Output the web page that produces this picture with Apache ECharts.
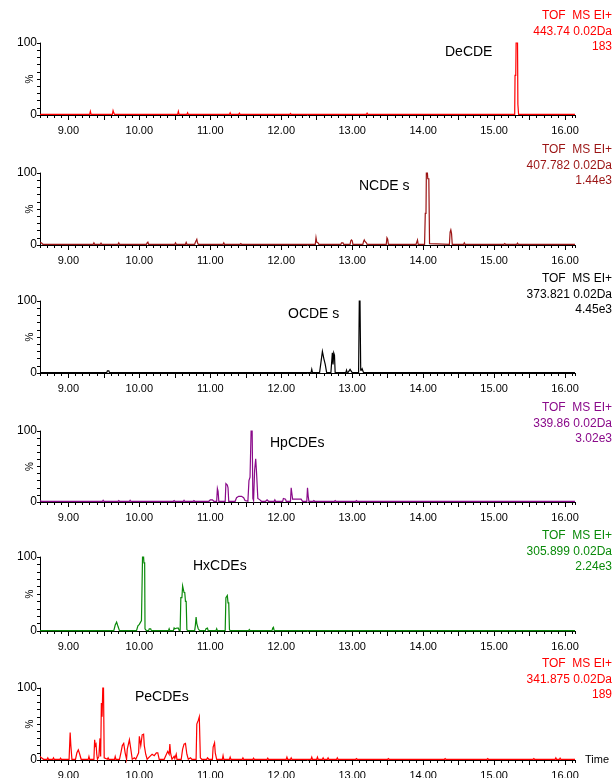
<!DOCTYPE html>
<html>
<head>
<meta charset="utf-8">
<script src="https://cdn.jsdelivr.net/npm/echarts@6/dist/echarts.min.js"></script>
<style>
html,body{margin:0;padding:0;background:#fff;}
#chart{width:613px;height:778px;}
</style>
</head>
<body>
<div id="chart"></div>
<script>
// ---------- DATA ----------
const compoundNames = ['DeCDE', 'NCDE s', 'OCDE s', 'HpCDEs', 'HxCDEs', 'PeCDEs'];
const headerLine1 = 'TOF  MS EI+';
const massLabels = ['443.74 0.02Da', '407.782 0.02Da', '373.821 0.02Da', '339.86 0.02Da', '305.899 0.02Da', '341.875 0.02Da'];
const intensityLabels = ['183', '1.44e3', '4.45e3', '3.02e3', '2.24e3', '189'];
const xTickLabels = [9, 10, 11, 12, 13, 14, 15, 16];
const xHalfTicks = [9, 9.5, 10, 10.5, 11, 11.5, 12, 12.5, 13, 13.5, 14, 14.5, 15, 15.5, 16];
const yTickLabels = [0, 100];

// Panel 1: DeCDE
const deTime = [8.60, 9.30, 9.31, 9.32, 9.62, 9.63, 9.64, 9.65, 10.54, 10.55, 10.56, 10.67, 10.68, 10.69, 11.27, 11.28, 11.29, 11.40, 11.41, 11.42, 12.12, 12.13, 12.14, 13.20, 13.21, 13.22, 15.29, 15.295, 15.305, 15.31, 15.33, 15.335, 15.345, 16.14];
const deVal  = [0.8, 0.8, 5, 0.8, 0.8, 6, 3, 0.8, 0.8, 5, 0.8, 0.8, 3, 0.8, 0.8, 3, 0.8, 0.8, 2.5, 0.8, 0.8, 2, 0.8, 0.8, 2.5, 0.8, 0.8, 55, 55, 100, 100, 15, 0.8, 0.8];

// Panel 2: NCDEs
const ncTime = [8.60, 8.62, 8.64, 9.35, 9.36, 9.37, 9.45, 9.46, 9.47, 9.70, 9.71, 9.72, 10.10, 10.11, 10.12, 10.13, 10.50, 10.51, 10.52, 10.65, 10.66, 10.67, 10.78, 10.79, 10.81, 10.82, 10.83, 11.18, 11.19, 11.20, 11.42, 11.43, 11.44, 12.48, 12.49, 12.50, 12.52, 12.53, 12.84, 12.85, 12.87, 12.88, 12.97, 12.98, 12.99, 13.00, 13.01, 13.15, 13.16, 13.17, 13.18, 13.20, 13.21, 13.48, 13.49, 13.50, 13.51, 13.90, 13.91, 13.92, 13.93, 14.02, 14.03, 14.04, 14.045, 14.06, 14.065, 14.08, 14.09, 14.37, 14.38, 14.39, 14.40, 14.41, 14.57, 14.58, 14.59, 15.14, 15.15, 15.16, 15.32, 15.33, 15.34, 16.14];
const ncVal  = [3, 3, 1, 1, 3, 1, 1, 2.5, 1, 1, 3, 1, 1, 3, 4, 1, 1, 3, 1, 1, 3.5, 1, 1, 4, 8, 3, 1, 1, 3, 1, 1, 2, 1, 1, 10, 4, 3, 1, 1, 3, 3, 1, 1, 6, 7, 6, 1, 1, 5, 7, 5, 3, 1, 1, 10, 8, 1, 1, 4, 7, 1, 1, 44, 44, 100, 100, 92, 92, 2, 1, 18, 21, 16, 1, 1, 3, 1, 1, 2, 1, 1, 2.5, 1, 1];

// Panel 3: OCDEs
const ocTime = [8.60, 9.54, 9.55, 9.57, 9.58, 12.42, 12.43, 12.44, 12.54, 12.56, 12.58, 12.60, 12.62, 12.64, 12.70, 12.72, 12.73, 12.74, 12.75, 12.76, 12.91, 12.92, 12.93, 12.94, 12.97, 12.99, 13.00, 13.09, 13.10, 13.11, 13.12, 13.13, 13.14, 13.16, 16.14];
const ocVal  = [0.5, 0.5, 3, 3, 0.5, 0.5, 5, 0.5, 0.5, 15, 30, 20, 12, 0.5, 0.5, 28, 12, 28, 25, 0.5, 0.5, 4, 0.5, 0.5, 5, 2, 0.5, 0.5, 100, 100, 4, 4, 6, 0.5, 0.5];

// Panel 4: HpCDEs
const hpTime = [8.60, 8.62, 8.64, 9.48, 9.49, 9.50, 9.70, 9.71, 9.72, 9.86, 9.87, 9.88, 10.48, 10.49, 10.50, 10.62, 10.63, 10.64, 10.76, 10.77, 10.78, 10.98, 11.00, 11.03, 11.05, 11.09, 11.10, 11.11, 11.12, 11.21, 11.22, 11.24, 11.25, 11.26, 11.35, 11.37, 11.40, 11.44, 11.47, 11.49, 11.53, 11.545, 11.56, 11.575, 11.59, 11.60, 11.61, 11.625, 11.64, 11.65, 11.67, 11.70, 11.72, 11.78, 11.80, 11.82, 11.90, 11.91, 11.92, 12.02, 12.03, 12.06, 12.07, 12.13, 12.14, 12.15, 12.16, 12.20, 12.28, 12.30, 12.36, 12.37, 12.38, 12.39, 12.45, 12.46, 12.47, 12.75, 12.76, 12.77, 13.05, 13.06, 13.07, 16.14];
const hpVal  = [2, 1, 1, 1, 2.5, 1, 1, 2, 1, 1, 2.5, 1, 1, 2, 1, 1, 2.5, 1, 1, 2, 1, 1, 3, 3, 1, 1, 19, 15, 1, 1, 26, 24, 20, 1, 1, 6, 8, 8, 6, 2, 1, 30, 35, 100, 100, 5, 2, 45, 61, 45, 5, 3, 1, 1, 3, 1, 1, 3, 1, 1, 5, 4, 1, 1, 20, 12, 4, 4, 4, 1, 1, 20, 8, 1, 1, 2, 1, 1, 2, 1, 1, 2, 1, 1];

// Panel 5: HxCDEs
const hxTime = [8.60, 9.64, 9.66, 9.68, 9.70, 9.72, 9.96, 9.98, 10.00, 10.03, 10.045, 10.06, 10.065, 10.075, 10.08, 10.10, 10.13, 10.14, 10.16, 10.17, 10.41, 10.42, 10.43, 10.48, 10.49, 10.50, 10.53, 10.55, 10.56, 10.575, 10.585, 10.60, 10.61, 10.63, 10.64, 10.65, 10.66, 10.67, 10.68, 10.78, 10.79, 10.80, 10.81, 10.83, 10.85, 10.93, 10.94, 10.96, 10.97, 11.08, 11.09, 11.10, 11.21, 11.22, 11.24, 11.25, 11.26, 11.27, 11.28, 11.54, 11.55, 11.56, 11.87, 11.88, 11.89, 11.90, 16.14];
const hxVal  = [0.5, 0.5, 8, 12, 6, 0.5, 0.5, 7, 9, 14, 100, 100, 92, 92, 3, 0.5, 0.5, 3, 3, 0.5, 0.5, 3, 0.5, 0.5, 4, 3, 4, 4, 1, 0.5, 45, 45, 61, 52, 52, 40, 40, 2, 0.5, 0.5, 8, 19, 10, 3, 0.5, 0.5, 3, 4, 0.5, 0.5, 3, 0.5, 0.5, 45, 48, 38, 38, 2, 0.5, 0.5, 2, 0.5, 0.5, 4, 5, 0.5, 0.5];

// Panel 6: PeCDEs
const peTime = [8.60, 8.62, 8.65, 8.70, 8.71, 8.72, 8.78, 8.79, 8.80, 8.88, 8.89, 8.90, 9.01, 9.025, 9.035, 9.05, 9.10, 9.12, 9.14, 9.16, 9.18, 9.28, 9.29, 9.30, 9.36, 9.37, 9.38, 9.39, 9.40, 9.41, 9.43, 9.445, 9.455, 9.465, 9.475, 9.485, 9.495, 9.505, 9.55, 9.56, 9.57, 9.65, 9.66, 9.67, 9.72, 9.74, 9.76, 9.78, 9.80, 9.82, 9.83, 9.86, 9.88, 9.90, 9.93, 9.95, 9.99, 10.00, 10.02, 10.04, 10.06, 10.07, 10.09, 10.11, 10.16, 10.18, 10.21, 10.24, 10.26, 10.28, 10.35, 10.40, 10.42, 10.43, 10.44, 10.46, 10.49, 10.50, 10.52, 10.53, 10.59, 10.61, 10.63, 10.65, 10.67, 10.69, 10.72, 10.74, 10.80, 10.81, 10.83, 10.845, 10.86, 10.88, 10.95, 10.96, 10.98, 11.03, 11.04, 11.06, 11.07, 11.09, 11.17, 11.18, 11.19, 11.27, 11.28, 11.29, 11.45, 11.46, 11.47, 11.60, 11.61, 11.62, 11.80, 11.81, 11.82, 12.07, 12.08, 12.09, 12.13, 12.14, 12.15, 12.42, 12.43, 12.44, 12.50, 12.51, 12.52, 12.58, 12.59, 12.60, 12.65, 12.66, 12.67, 12.78, 12.79, 12.80, 13.05, 13.06, 13.07, 13.50, 13.51, 13.52, 14.30, 14.31, 14.32, 14.90, 14.91, 14.92, 15.55, 15.56, 15.57, 15.86, 15.87, 15.88, 15.92, 15.93, 15.94, 16.14];
const peVal  = [5, 3, 1, 1, 3, 1, 1, 3, 1, 1, 2.5, 1, 1, 38, 20, 1, 1, 10, 14, 8, 1, 1, 5, 1, 1, 28, 20, 22, 8, 1, 5, 30, 5, 79, 60, 100, 100, 3, 1, 3, 1, 1, 5, 1, 1, 10, 20, 23, 10, 1, 15, 28, 15, 1, 3, 1, 10, 33, 20, 35, 36, 20, 8, 1, 6, 8, 6, 10, 10, 1, 1, 12, 8, 22, 10, 1, 5, 2, 8, 1, 1, 15, 22, 23, 8, 1, 3, 1, 1, 50, 55, 60, 3, 1, 1, 3, 1, 1, 18, 24, 10, 1, 1, 6, 1, 1, 4, 1, 1, 3, 1, 1, 2.5, 1, 1, 2.5, 1, 1, 4, 1, 1, 3, 1, 1, 4, 1, 1, 4, 1, 1, 3, 1, 1, 3, 1, 1, 3, 1, 1, 2, 1, 1, 2, 1, 1, 2, 1, 1, 2, 1, 1, 2, 1, 1, 3, 1, 1, 2.5, 1, 1];

// ---------- LAYOUT ----------
const traces = [[deTime, deVal], [ncTime, ncVal], [ocTime, ocVal], [hpTime, hpVal], [hxTime, hxVal], [peTime, peVal]];
const colors = ['#ff0000', '#9b1414', '#000000', '#8a0a8a', '#0a8a0a', '#ff0000'];
const gridTops = [43, 173, 301, 431, 557, 688];
const gridHeights = [72, 72, 72, 71, 74, 72];
const headerY = [8, 142, 271, 400, 528, 656];
const labelPos = [[445, 52], [359, 186], [288, 314], [270, 443], [193, 566], [135, 697]];
const FONT = '"Liberation Sans", Arial, sans-serif';
const XMIN = 8.6, XMAX = 16.14;

const grids = [], xAxes = [], yAxes = [], series = [], graphics = [];
traces.forEach((tr, i) => {
  grids.push({left: 40, width: 535, top: gridTops[i], height: gridHeights[i], outerBoundsMode: 'none', containLabel: false});
  const isLast = i === traces.length - 1;
  xAxes.push({
    type: 'value', gridIndex: i, min: XMIN, max: XMAX, position: 'bottom',
    axisLine: {show: true, onZero: false, lineStyle: {color: '#000', width: 1}},
    axisTick: {show: true, length: 5, customValues: xHalfTicks, lineStyle: {color: '#000'}},
    axisLabel: {show: true, customValues: xTickLabels, margin: 10, color: '#000', fontSize: 11, fontFamily: FONT,
      formatter: v => Number(v).toFixed(2)},
    splitLine: {show: false},
    name: isLast ? 'Time' : '', nameLocation: 'end', nameGap: 10,
    nameTextStyle: {color: '#000', fontSize: 11, fontFamily: FONT, verticalAlign: 'middle', padding: [6, 0, 0, 0]}
  });
  xAxes.push({
    type: 'value', gridIndex: i, min: XMIN, max: XMAX, interval: 0.1, position: 'bottom', offset: 0,
    axisLine: {show: false, onZero: false},
    axisTick: {show: true, length: 3, lineStyle: {color: '#000'}},
    axisLabel: {show: false}, splitLine: {show: false}
  });
  yAxes.push({
    type: 'value', gridIndex: i, min: 0, max: 100, interval: 10,
    axisLine: {show: true, lineStyle: {color: '#000', width: 1}},
    axisTick: {show: true, length: 3, lineStyle: {color: '#000'}},
    axisLabel: {show: true, margin: 3, color: '#000', fontSize: 12, fontFamily: FONT,
      formatter: v => (yTickLabels.indexOf(v) >= 0 ? String(v) : '')},
    splitLine: {show: false},
    name: '%', nameLocation: 'middle', nameRotate: 90, nameGap: 5, nameMoveOverlap: false,
    nameTextStyle: {color: '#000', fontSize: 10, fontFamily: FONT}
  });
  const pts = tr[0].map((t, k) => [t, tr[1][k]]);
  const col = colors[i];
  series.push({
    type: 'custom', xAxisIndex: i * 2, yAxisIndex: i,
    data: pts, encode: {x: 0, y: 1}, animation: false, z: 3, silent: true,
    renderItem: (params, api) => {
      if (params.dataIndex !== 0) return null;
      return {
        type: 'polyline',
        shape: {points: pts.map(p => api.coord(p))},
        style: {stroke: col, fill: null, lineWidth: 1.2}
      };
    }
  });
  graphics.push({
    type: 'text', x: 612, y: headerY[i], z: 10,
    style: {text: headerLine1 + '\n' + massLabels[i] + '\n' + intensityLabels[i],
      x: 0, y: 0, align: 'right', verticalAlign: 'top', lineHeight: 15.5,
      fill: colors[i], font: '12px ' + FONT}
  });
  graphics.push({
    type: 'text', x: labelPos[i][0], y: labelPos[i][1], z: 10,
    style: {text: compoundNames[i], align: 'left', verticalAlign: 'middle',
      fill: '#000', font: '14px ' + FONT}
  });
});

const chart = echarts.init(document.getElementById('chart'), null, {renderer: 'canvas'});
chart.setOption({
  animation: false,
  backgroundColor: '#fff',
  grid: grids, xAxis: xAxes, yAxis: yAxes, series: series,
  graphic: graphics
});
</script>
</body>
</html>
